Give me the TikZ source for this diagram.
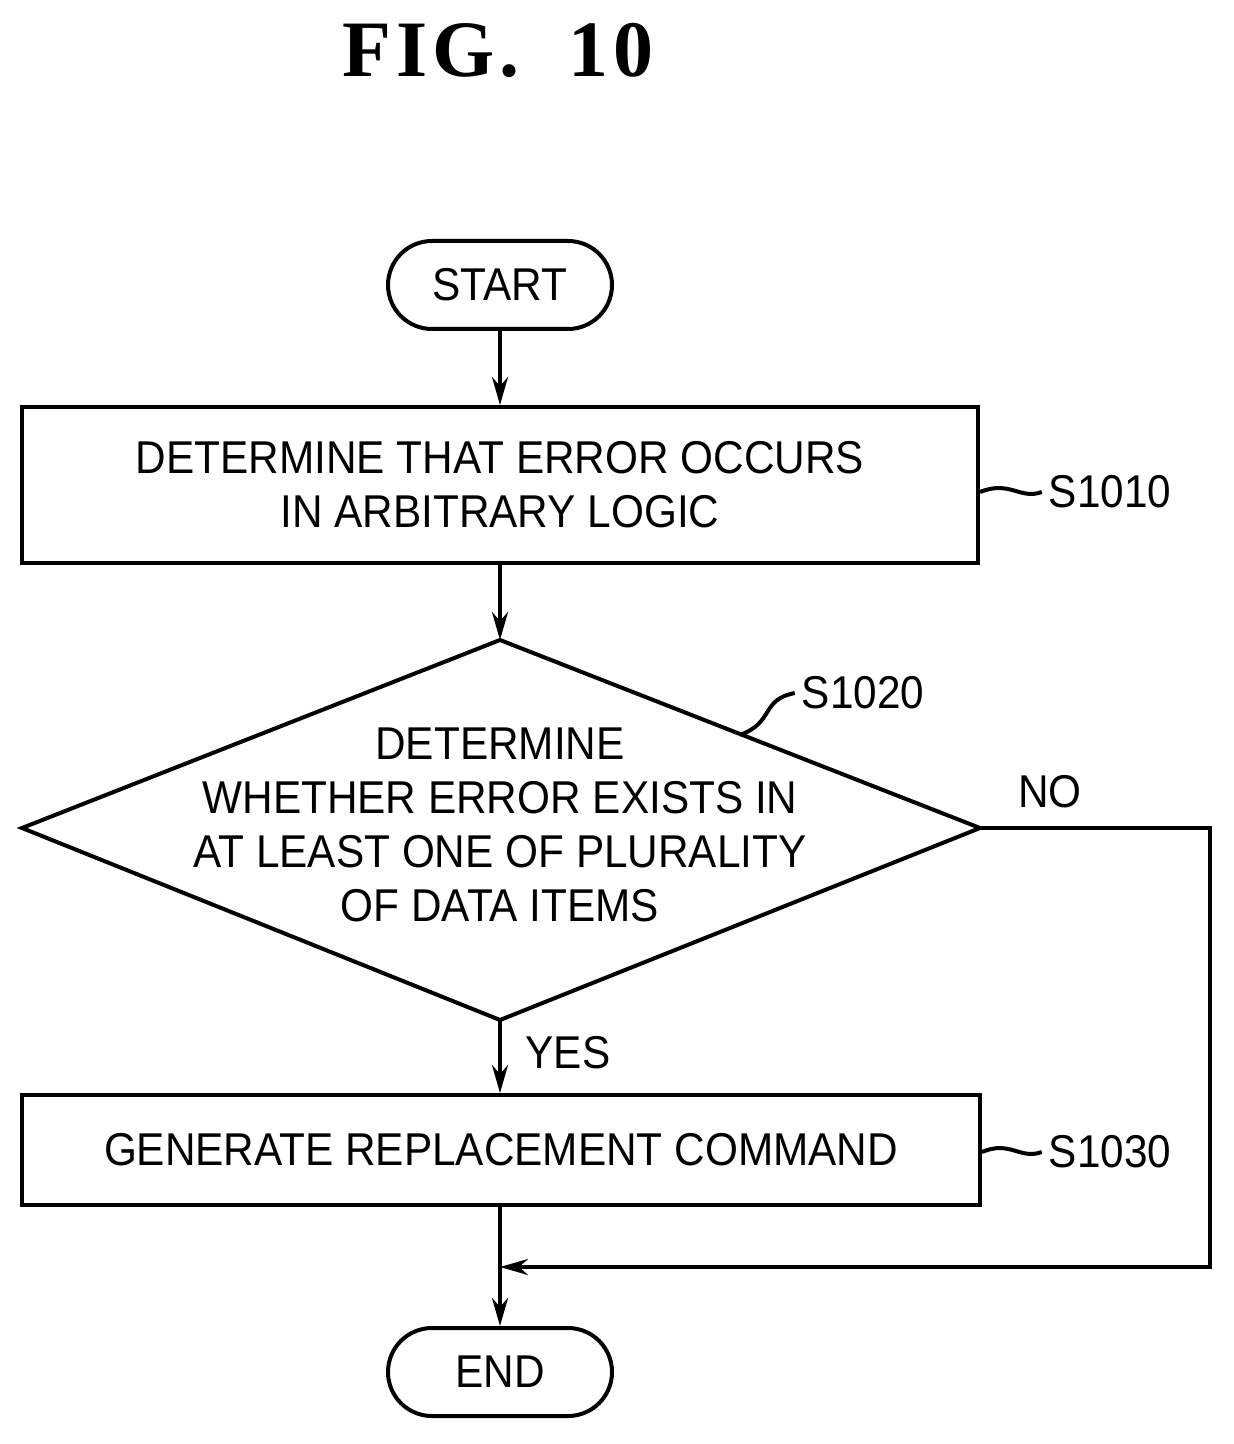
\documentclass[tikz,border=0pt]{standalone}
\usepackage{fontspec}
\setmainfont{Liberation Sans}[FakeStretch=0.92]
\newfontfamily\titlefont{Liberation Serif}[LetterSpace=6]
\usetikzlibrary{shapes.geometric,arrows.meta}
\begin{document}
\begin{tikzpicture}[x=0.5pt,y=-0.5pt,
  every node/.style={font=\fontsize{23}{27}\selectfont},
  ln/.style={line width=2pt},
  arr/.style={ln,-{Stealth[length=14pt,width=8pt]}},
  term/.style={draw,ln,rounded corners=22pt,minimum width=112pt,minimum height=44pt,inner sep=0pt},
  box/.style={draw,ln,inner sep=0pt,align=center}]
\useasboundingbox (0,0) rectangle (1234,1444);
\node[font=\titlefont\bfseries\fontsize{40}{46}\selectfont] (title) at (498,50) {FIG.\ \ 10};
\node[term] (start) at (500,285) {START};
\node[box,minimum width=478pt,minimum height=78pt] (b1) at (500,485) {DETERMINE THAT ERROR OCCURS\\IN ARBITRARY LOGIC};
\coordinate (dt) at (500,640); \coordinate (dr) at (980,828); \coordinate (db) at (500,1020); \coordinate (dl) at (22,828);
\draw[ln,line join=miter] (dt) -- (dr) -- (db) -- (dl) -- cycle;
\node[align=center] (dtext) at (500,825) {DETERMINE\\WHETHER ERROR EXISTS IN\\AT LEAST ONE OF PLURALITY\\OF DATA ITEMS};
\node[box,minimum width=479pt,minimum height=55pt] (b2) at (501,1150) {GENERATE REPLACEMENT COMMAND};
\node[term] (end) at (500,1372) {END};
\node (s1) at (1110,492) {S1010};
\node (s2) at (863,693) {S1020};
\node (s3) at (1110,1152) {S1030};
\node (no) at (1050,792) {NO};
\node (yes) at (568,1053) {YES};
\coordinate (m) at (500,1267);
\coordinate (c1) at (1210,828); \coordinate (c2) at (1210,1267);
\draw[arr] (start) -- (b1);
\draw[arr] (b1) -- (dt);
\draw[arr] (db) -- (b2.north -| db);
\draw[ln] (b2.south -| m) -- (m);
\draw[arr] (m) -- (end);
\draw[arr] (dr) -- (c1) -- (c2) -- (m);
\draw[ln] (b1.east |- s1) .. controls (1010,480) and (1020,500) .. (s1.west);
\draw[ln] (b2.east |- s3) .. controls (1010,1140) and (1020,1160) .. (s3.west);
\draw[ln] (740,735) .. controls (775,722) and (760,700) .. (s2.west);
\end{tikzpicture}
\end{document}
